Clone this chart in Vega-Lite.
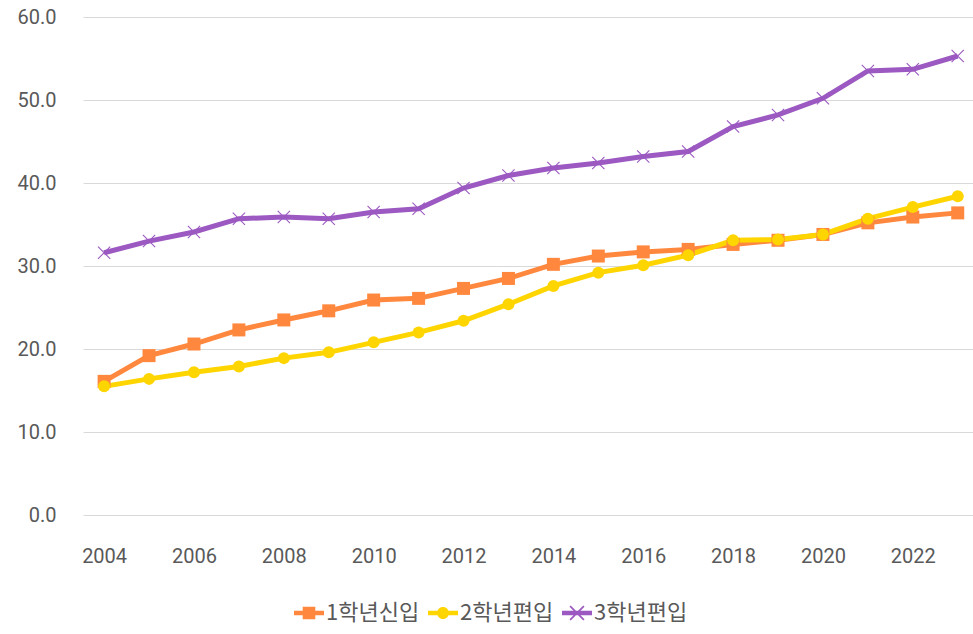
{
  "$schema": "https://vega.github.io/schema/vega-lite/v6.json",
  "autosize": {"type": "none"},
  "padding": {"left": 83, "top": 17, "right": 0, "bottom": 119},
  "width": 890,
  "height": 498,
  "background": "white",
  "config": {
    "view": {"stroke": null},
    "font": "Roboto",
    "axis": {"labelFont": "Roboto", "labelColor": "#595959", "labelFontSize": 20}
  },
  "data": {
    "values": [
      {"year": 2004, "series": "1학년신입", "value": 16.1},
      {"year": 2005, "series": "1학년신입", "value": 19.2},
      {"year": 2006, "series": "1학년신입", "value": 20.6},
      {"year": 2007, "series": "1학년신입", "value": 22.3},
      {"year": 2008, "series": "1학년신입", "value": 23.5},
      {"year": 2009, "series": "1학년신입", "value": 24.6},
      {"year": 2010, "series": "1학년신입", "value": 25.9},
      {"year": 2011, "series": "1학년신입", "value": 26.1},
      {"year": 2012, "series": "1학년신입", "value": 27.3},
      {"year": 2013, "series": "1학년신입", "value": 28.5},
      {"year": 2014, "series": "1학년신입", "value": 30.2},
      {"year": 2015, "series": "1학년신입", "value": 31.2},
      {"year": 2016, "series": "1학년신입", "value": 31.7},
      {"year": 2017, "series": "1학년신입", "value": 32.0},
      {"year": 2018, "series": "1학년신입", "value": 32.6},
      {"year": 2019, "series": "1학년신입", "value": 33.1},
      {"year": 2020, "series": "1학년신입", "value": 33.8},
      {"year": 2021, "series": "1학년신입", "value": 35.2},
      {"year": 2022, "series": "1학년신입", "value": 35.9},
      {"year": 2023, "series": "1학년신입", "value": 36.4},
      {"year": 2004, "series": "2학년편입", "value": 15.5},
      {"year": 2005, "series": "2학년편입", "value": 16.4},
      {"year": 2006, "series": "2학년편입", "value": 17.2},
      {"year": 2007, "series": "2학년편입", "value": 17.9},
      {"year": 2008, "series": "2학년편입", "value": 18.9},
      {"year": 2009, "series": "2학년편입", "value": 19.6},
      {"year": 2010, "series": "2학년편입", "value": 20.8},
      {"year": 2011, "series": "2학년편입", "value": 22.0},
      {"year": 2012, "series": "2학년편입", "value": 23.4},
      {"year": 2013, "series": "2학년편입", "value": 25.4},
      {"year": 2014, "series": "2학년편입", "value": 27.6},
      {"year": 2015, "series": "2학년편입", "value": 29.2},
      {"year": 2016, "series": "2학년편입", "value": 30.1},
      {"year": 2017, "series": "2학년편입", "value": 31.3},
      {"year": 2018, "series": "2학년편입", "value": 33.1},
      {"year": 2019, "series": "2학년편입", "value": 33.2},
      {"year": 2020, "series": "2학년편입", "value": 33.8},
      {"year": 2021, "series": "2학년편입", "value": 35.7},
      {"year": 2022, "series": "2학년편입", "value": 37.1},
      {"year": 2023, "series": "2학년편입", "value": 38.4},
      {"year": 2004, "series": "3학년편입", "value": 31.6},
      {"year": 2005, "series": "3학년편입", "value": 33.0},
      {"year": 2006, "series": "3학년편입", "value": 34.1},
      {"year": 2007, "series": "3학년편입", "value": 35.7},
      {"year": 2008, "series": "3학년편입", "value": 35.9},
      {"year": 2009, "series": "3학년편입", "value": 35.7},
      {"year": 2010, "series": "3학년편입", "value": 36.5},
      {"year": 2011, "series": "3학년편입", "value": 36.9},
      {"year": 2012, "series": "3학년편입", "value": 39.4},
      {"year": 2013, "series": "3학년편입", "value": 40.9},
      {"year": 2014, "series": "3학년편입", "value": 41.8},
      {"year": 2015, "series": "3학년편입", "value": 42.4},
      {"year": 2016, "series": "3학년편입", "value": 43.2},
      {"year": 2017, "series": "3학년편입", "value": 43.8},
      {"year": 2018, "series": "3학년편입", "value": 46.8},
      {"year": 2019, "series": "3학년편입", "value": 48.2},
      {"year": 2020, "series": "3학년편입", "value": 50.2},
      {"year": 2021, "series": "3학년편입", "value": 53.5},
      {"year": 2022, "series": "3학년편입", "value": 53.7},
      {"year": 2023, "series": "3학년편입", "value": 55.3}
    ]
  },
  "encoding": {
    "x": {
      "field": "year", "type": "quantitative",
      "scale": {"domain": [2003.53, 2023.34], "nice": false, "zero": false},
      "axis": {
        "title": null, "values": [2004, 2006, 2008, 2010, 2012, 2014, 2016, 2018, 2020, 2022],
        "format": "d", "grid": false, "domain": false, "ticks": false, "labelPadding": 31,
        "labelFlush": false, "labelOverlap": false
      }
    },
    "y": {
      "field": "value", "type": "quantitative",
      "scale": {"domain": [0, 60], "nice": false},
      "axis": {
        "title": null, "values": [0, 10, 20, 30, 40, 50, 60], "format": ".1f",
        "grid": true, "gridColor": "#D9D9D9", "gridWidth": 1, "domain": false, "ticks": false,
        "labelPadding": 27
      }
    }
  },
  "layer": [
    {
      "mark": {"type": "line", "strokeWidth": 5},
      "encoding": {
        "color": {
          "field": "series", "type": "nominal",
          "scale": {"domain": ["1학년신입", "2학년편입", "3학년편입"], "range": ["#FF883E", "#FFD500", "#9B59C1"]},
          "legend": {
            "title": null, "orient": "none", "direction": "horizontal",
            "legendX": 211, "legendY": 581,
            "labelFont": "Noto Sans CJK KR", "labelFontSize": 22, "labelColor": "#595959",
            "labelOffset": 2, "columnPadding": 8, "symbolSize": 900,
            "encode": {
              "symbols": {
                "update": {
                  "shape": {"signal": "datum.value === '1학년신입' ? 'M-1,-0.15H-0.42V-0.42H0.42V-0.15H1V0.15H0.42V0.42H-0.42V0.15H-1Z' : datum.value === '2학년편입' ? 'M-1,-0.15H1V0.15H-1Z M-0.4,0A0.4,0.4 0 1,1 0.4,0A0.4,0.4 0 1,1 -0.4,0Z' : 'M-1,-0.15H1V0.15H-1Z M-0.5,-0.42L-0.42,-0.5L0.5,0.42L0.42,0.5Z M-0.5,0.42L0.42,-0.5L0.5,-0.42L-0.42,0.5Z'"},
                  "fill": {"signal": "datum.value === '1학년신입' ? '#FF883E' : datum.value === '2학년편입' ? '#FFD500' : '#9B59C1'"},
                  "strokeWidth": {"value": 0},
                  "opacity": {"value": 1}
                }
              }
            }
          }
        }
      }
    },
    {
      "transform": [{"filter": "datum.series === '1학년신입'"}],
      "mark": {"type": "point", "shape": "square", "filled": true, "size": 169, "opacity": 1, "color": "#FF883E"}
    },
    {
      "transform": [{"filter": "datum.series === '2학년편입'"}],
      "mark": {"type": "point", "shape": "circle", "filled": true, "size": 144, "opacity": 1, "color": "#FFD500"}
    },
    {
      "transform": [{"filter": "datum.series === '3학년편입'"}],
      "mark": {"type": "point", "shape": "M-1,-0.88L-0.88,-1L1,0.88L0.88,1Z M-1,0.88L0.88,-1L1,-0.88L-0.88,1Z", "filled": true, "size": 170, "opacity": 1, "color": "#9B59C1"}
    }
  ]
}
